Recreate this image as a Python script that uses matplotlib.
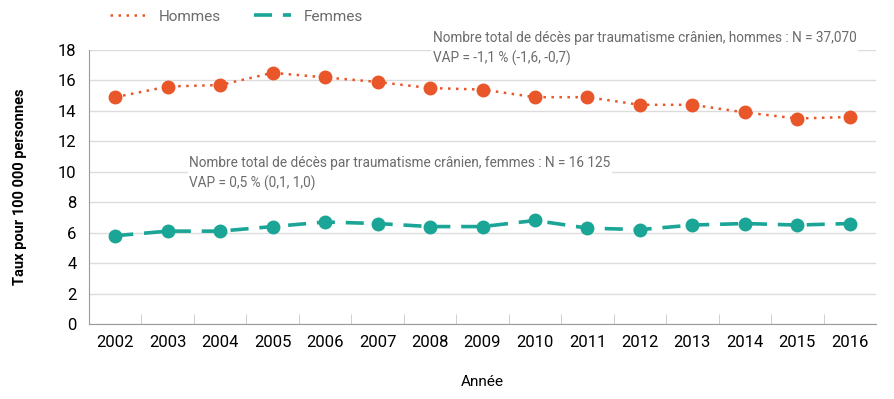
import matplotlib.pyplot as plt
import numpy as np

plt.rcParams['font.family'] = ['Roboto', 'DejaVu Sans']

years = ["2002", "2003", "2004", "2005", "2006", "2007", "2008", "2009",
         "2010", "2011", "2012", "2013", "2014", "2015", "2016"]
hommes = [14.9, 15.6, 15.7, 16.5, 16.2, 15.9, 15.5, 15.4, 14.9, 14.9, 14.4, 14.4, 13.9, 13.5, 13.6]
femmes = [5.8, 6.1, 6.1, 6.4, 6.7, 6.6, 6.4, 6.4, 6.8, 6.3, 6.2, 6.5, 6.6, 6.5, 6.6]

ORANGE = "#E8562A"
TEAL = "#1AA596"
GREY = "#6b6b6b"

fig = plt.figure(figsize=(8.94, 3.99), dpi=100)
ax = fig.add_axes([89 / 894, 75 / 399, 787 / 894, 274 / 399])

x = np.arange(len(years))
ax.plot(x, hommes, color=ORANGE, linestyle=(0, (1, 2.2)), linewidth=1.8,
        marker="o", markersize=9, label="Hommes", zorder=3)
ax.plot(x, femmes, color=TEAL, linestyle=(0, (5, 3)), linewidth=2.6,
        marker="o", markersize=9, label="Femmes", zorder=3)

ax.set_xlim(-0.5, len(years) - 0.5)
ax.set_ylim(0, 18)
ax.set_yticks(range(0, 19, 2))
ax.set_xticks(x)
ax.set_xticklabels(years)
ax.set_xticks(np.arange(0.5, len(years) - 0.5), minor=True)
ax.tick_params(axis="x", which="major", length=0, labelsize=12, pad=8)
ax.tick_params(axis="x", which="minor", length=7, direction="in", color="#c8c8c8")
ax.tick_params(axis="y", length=0, labelsize=12, pad=9)
ax.grid(axis="y", color="#dcdcdc", linewidth=1)
ax.set_axisbelow(True)
for s in ["top", "right"]:
    ax.spines[s].set_visible(False)
ax.spines["left"].set_color("#9a9a9a")
ax.spines["bottom"].set_color("#9a9a9a")

ax.set_ylabel("Taux pour 100 000 personnes", fontsize=10.5, fontweight="bold", labelpad=22)
ax.set_xlabel("Année", fontsize=11, labelpad=18)

box = dict(facecolor="white", edgecolor="none", pad=1)
ax.text(6.05, 18.1, "Nombre total de décès par traumatisme crânien, hommes : N = 37,070\n"
        "VAP = -1,1 % (-1,6, -0,7)", fontsize=9.8, color=GREY, va="center",
        ha="left", linespacing=1.45, bbox=box)
ax.text(1.41, 9.9, "Nombre total de décès par traumatisme crânien, femmes : N = 16 125\n"
        "VAP = 0,5 % (0,1, 1,0)", fontsize=9.8, color=GREY, va="center",
        ha="left", linespacing=1.45, bbox=box)

leg = fig.legend(handles=[ax.lines[0], ax.lines[1]], loc="upper left",
                 bbox_to_anchor=(96 / 894, 1.01), ncol=2, frameon=False,
                 fontsize=11, handlelength=2.4, columnspacing=2.2)
for h in leg.legend_handles:
    h.set_marker("")
for t in leg.get_texts():
    t.set_color(GREY)

fig.savefig("out.png", dpi=100)
